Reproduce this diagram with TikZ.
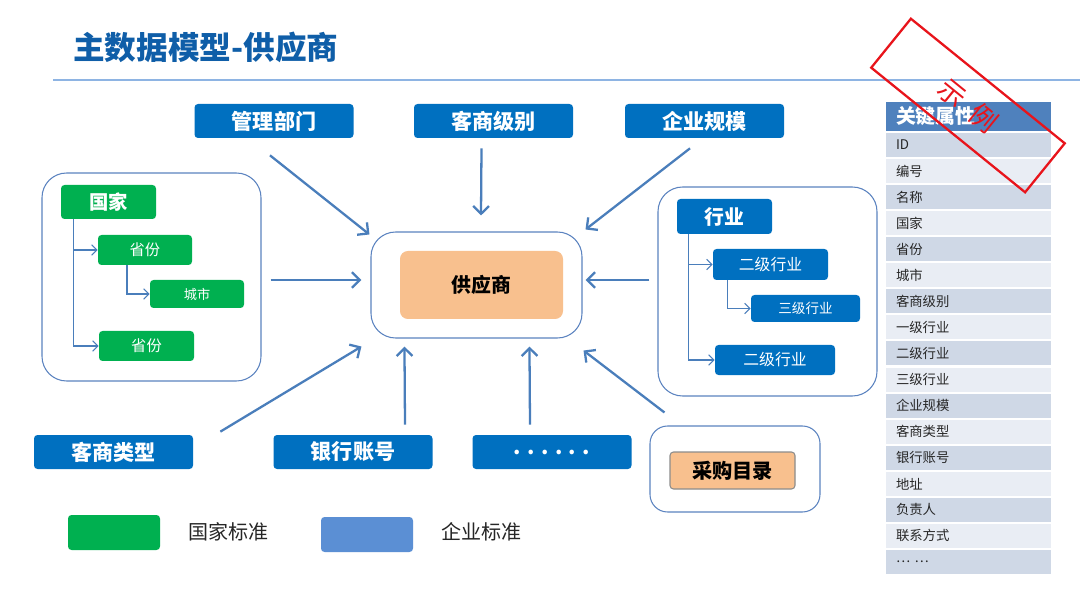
\documentclass[tikz,border=0pt]{standalone}
\usepackage{fontspec}
\setmainfont{Noto Sans CJK SC}
\usetikzlibrary{arrows.meta}

\definecolor{boxblue}{HTML}{0070C0}
\definecolor{stdgreen}{HTML}{00B050}
\definecolor{peach}{HTML}{F8C08E}
\definecolor{framebl}{HTML}{5B83C0}
\definecolor{arrowbl}{HTML}{4A7EBB}
\definecolor{titleblue}{HTML}{0F5EA8}
\definecolor{titleline}{HTML}{8EB4E3}
\definecolor{headerbl}{HTML}{4F81BD}
\definecolor{rowdark}{HTML}{CFD8E6}
\definecolor{rowlight}{HTML}{E9EDF4}
\definecolor{legendbl}{HTML}{5B8FD4}
\definecolor{stampred}{HTML}{E8141B}

\newdimen\unitpx \unitpx=0.02cm
\newcommand\fsz[1]{\fontsize{#1}{#1}\selectfont}

\begin{document}
\begin{tikzpicture}[
    x=0.02cm, y=-0.02cm,
    wh/.style 2 args={minimum width=#1*\unitpx, minimum height=#2*\unitpx},
    bluebox/.style={
        rectangle,
        rounded corners=2pt,
        fill=boxblue,
        text=white,
        inner sep=0pt,
        wh={159}{34},
        font=\bfseries\fsz{12}
    },
    greenbox/.style={
        rectangle,
        rounded corners=2pt,
        fill=stdgreen,
        text=white,
        inner sep=0pt
    },
    subbox/.style={
        rectangle,
        rounded corners=2pt,
        fill=boxblue,
        text=white,
        inner sep=0pt
    },
    frame/.style={
        rectangle,
        rounded corners=14pt,
        draw=framebl,
        line width=0.6pt
    },
    attrrow/.style={
        rectangle,
        text width=2.9cm,
        inner xsep=0.2cm,
        inner ysep=0pt,
        align=left,
        minimum height=24*\unitpx,
        font=\fsz{7.6},
        text=black!85
    },
    treeline/.style={-{Straight Barb[length=3pt,width=6pt]}, draw=arrowbl, line width=0.6pt},
    arr/.style={-{Straight Barb[length=4.5pt,width=9pt]}, draw=arrowbl, line width=1.3pt}
]

\fill[white] (0,0) rectangle (1080,608);
\useasboundingbox (0,0) rectangle (1080,608);

% title
\node[anchor=west, text=titleblue, font=\bfseries\fsz{18}] (title) at (67,47) {主数据模型-供应商};
\draw[titleline, line width=1.6pt] (53,80) -- (1080,80);

% top boxes
\node[bluebox] (mgmt) at (274,121) {管理部门};
\node[bluebox] (level) at (493.5,121) {客商级别};
\node[bluebox] (scale) at (704.5,121) {企业规模};

% geography (national standard)
\node[frame, wh={219}{208}] (geo) at (151.5,277) {};
\node[greenbox, wh={95}{34}, font=\bfseries\fsz{11}] (country) at (108.5,202) {国家};
\node[greenbox, wh={94}{30}, font=\fsz{8.7}] (prov1) at (145,250) {省份};
\node[greenbox, wh={94}{28}, font=\fsz{7.5}] (city) at (197,294) {城市};
\node[greenbox, wh={95}{30}, font=\fsz{8.7}] (prov2) at (146.5,346) {省份};

\draw[treeline] ([shift={(13,0)}]country.south west) |- (prov1.west);
\draw[treeline] ([shift={(13,0)}]country.south west) |- (prov2.west);
\draw[treeline] ([shift={(-18,0)}]prov1.south) |- (city.west);

% supplier
\node[frame, wh={211}{106}] (core) at (476.5,285) {};
\node[rectangle, rounded corners=4.5pt, fill=peach, wh={163}{68}, font=\bfseries\fsz{11.3}] (supplier) at (481.5,285) {供应商};

% industry
\node[frame, wh={219}{209}] (ind) at (767.5,291.5) {};
\node[subbox, wh={95}{35}, font=\bfseries\fsz{11.3}] (indtop) at (724.5,216.5) {行业};
\node[subbox, wh={115}{31}, font=\fsz{9}] (indtwoa) at (770.5,264.5) {二级行业};
\node[subbox, wh={109}{27}, font=\fsz{7.7}] (indthree) at (805.5,308.5) {三级行业};
\node[subbox, wh={120}{30}, font=\fsz{9}] (indtwob) at (775,360) {二级行业};

\draw[treeline] ([shift={(12,0)}]indtop.south west) |- (indtwoa.west);
\draw[treeline] ([shift={(12,0)}]indtop.south west) |- (indtwob.west);
\draw[treeline] ([shift={(15,0)}]indtwoa.south west) |- (indthree.west);

% bottom boxes
\node[bluebox] (ctype) at (113.5,452) {客商类型};
\node[bluebox] (bank) at (353,452) {银行账号};
\node[bluebox] (more) at (552,452) {.\hspace{0.3em}.\hspace{0.3em}.\hspace{0.3em}.\hspace{0.3em}.\hspace{0.3em}.};

% purchase catalog
\node[frame, rounded corners=10pt, wh={170}{86}] (catframe) at (735,469) {};
\node[rectangle, rounded corners=2pt, fill=peach, draw=black!45, line width=0.6pt, wh={125}{37}, font=\bfseries\fsz{11.5}] (catalog) at (732.5,470.5) {采购目录};

% arrows into the supplier
\draw[arr] ([shift={(-4,17)}]mgmt.south) -- ([shift={(-1,3)}]core.north west);
\draw[arr] ([shift={(-12,10)}]level.south) -- ([shift={(4.5,-16)}]core.north);
\draw[arr] ([shift={(-14.5,10)}]scale.south) -- ([shift={(3,-2)}]core.north east);
\draw[arr] ([shift={(9,3)}]geo.east) -- ([shift={(-9,-5)}]core.west);
\draw[arr] ([shift={(-8,-11.5)}]ind.west) -- ([shift={(3,-5)}]core.east);
\draw[arr] ([shift={(27,-3)}]ctype.north east) -- ([shift={(-9,8)}]core.south west);
\draw[arr] ([shift={(52,-10)}]bank.north) -- ([shift={(34,8)}]core.south west);
\draw[arr] ([shift={(-22,-10)}]more.north) -- ([shift={(159,8)}]core.south west);
\draw[arr] ([shift={(15,-13)}]catframe.north west) -- ([shift={(1,12)}]core.south east);

% legend
\node[greenbox, wh={92}{35}] (keygreen) at (114,532.5) {};
\node[anchor=west, text=black!85, font=\fsz{11.4}] (keygreentext) at (182,532) {国家标准};
\node[rectangle, rounded corners=2pt, fill=legendbl, wh={92}{35}] (keyblue) at (367,534.5) {};
\node[anchor=west, text=black!85, font=\fsz{11.4}] (keybluetext) at (435,532) {企业标准};

% key attributes
\node[attrrow, fill=headerbl, minimum height=29*\unitpx, text=white, font=\bfseries\fsz{11.3}] (attrhead) at (968.5,116.5) {关键属性};
\foreach \attr [count=\i from 0] in {ID,编号,名称,国家,省份,城市,客商级别,一级行业,二级行业,三级行业,企业规模,客商类型,银行账号,地址,负责人,联系方式,\ldots\ \ldots} {
    \ifodd\i \def\rowcol{rowlight}\else \def\rowcol{rowdark}\fi
    \node[attrrow, fill=\rowcol] (attr\i) at (968.5, 145+26.06*\i) {\attr};
}

% stamp
\node[rectangle, rotate=-39, draw=stampred, line width=1.3pt, wh={198}{63}, text=stampred, font=\fsz{15.5}] (stamp) at (968,105.5) {示\hspace{0.5em}例};

\end{tikzpicture}
\end{document}
